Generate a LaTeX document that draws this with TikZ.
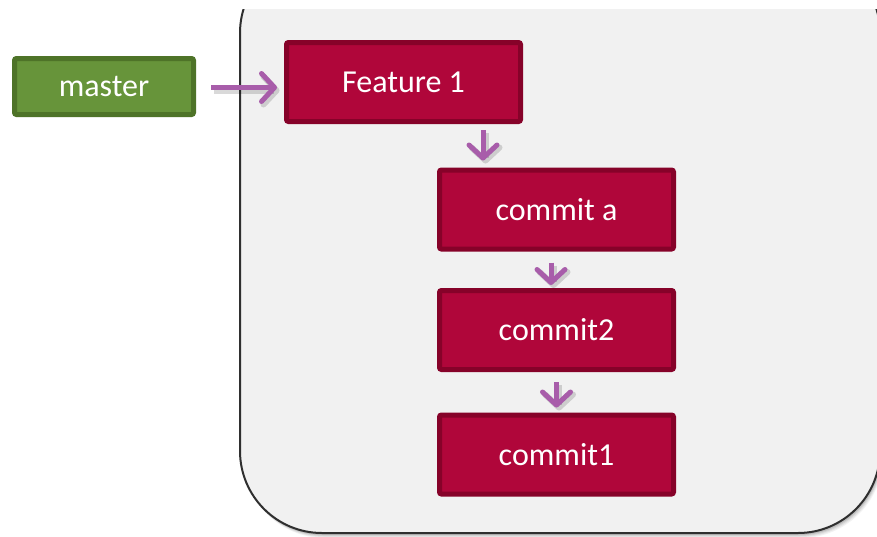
\documentclass[tikz,border=0pt]{standalone}
\usepackage{fontspec}
\setmainfont{Carlito}
\usetikzlibrary{arrows.meta}
\definecolor{crim}{HTML}{B0063A}
\definecolor{crimdark}{HTML}{860229}
\definecolor{grn}{HTML}{67943A}
\definecolor{grndark}{HTML}{4E7328}
\definecolor{purp}{HTML}{A85DAA}
\definecolor{panel}{HTML}{F1F1F1}
\definecolor{paneledge}{HTML}{2F2F2F}
\tikzset{
  box/.style={draw=crimdark, fill=crim, line width=5pt, rounded corners=2pt,
    minimum width=234pt, minimum height=79pt, text=white, inner sep=0pt,
    font=\fontsize{32}{38}\selectfont},
  gbox/.style={draw=grndark, fill=grn, line width=5pt, rounded corners=2pt,
    minimum width=179pt, minimum height=56pt, text=white, inner sep=0pt,
    font=\fontsize{32}{38}\selectfont},
  arr/.style={draw=purp, line width=5pt,
    -{Straight Barb[round, length=13pt, width=28pt, line width=5pt]}},
  arrshadow/.style={draw=black, opacity=0.15, line width=6pt,
    -{Straight Barb[round, length=13pt, width=28pt, line width=6pt]}}
}
\begin{document}
\begin{tikzpicture}[x=1pt,y=-1pt]
\useasboundingbox (0,0) rectangle (877,536);
% panel
\begin{scope}
\clip (0,9) rectangle (877,536);
\foreach \s/\o in {5/0.05,4/0.06,3/0.08,2/0.1}{
  \fill[black, opacity=\o, rounded corners=82pt] (240+\s*0.6,-49+\s) rectangle (880+\s*0.6,533+\s);
}
\draw[draw=paneledge, fill=panel, line width=2pt, rounded corners=82pt] (240,-49) rectangle (880,533);
\end{scope}
% nodes
\node[gbox] (m) at (104,86.5) {master};
\node[box] (F) at (403.5,82) {Feature 1};
\node[box] (ca) at (556.5,209.5) {commit a};
\node[box] (c2) at (556.5,330) {commit2};
\node[box] (c1) at (556.5,454.5) {commit1};
% arrow shadows
\begin{scope}[transform canvas={shift={(2.5pt,-3pt)}}]
\draw[arrshadow, shorten <=15pt, shorten >=7pt] ([yshift=-1]m.east) -- ([yshift=-1]F.west |- m.east);
\draw[arrshadow, shorten <=6pt, shorten >=7pt] ([xshift=79.5]F.south) -- ([xshift=79.5]F.south |- ca.north);
\draw[arrshadow, shorten <=11pt, shorten >=3pt] ([xshift=-5.5]ca.south) -- ([xshift=-5.5]ca.south |- c2.north);
\draw[arrshadow, shorten <=10pt, shorten >=5pt] (c2.south) -- (c2.south |- c1.north);
\end{scope}
% arrows
\draw[arr, shorten <=15pt, shorten >=7pt] ([yshift=-1]m.east) -- ([yshift=-1]F.west |- m.east);
\draw[arr, shorten <=6pt, shorten >=7pt] ([xshift=79.5]F.south) -- ([xshift=79.5]F.south |- ca.north);
\draw[arr, shorten <=11pt, shorten >=3pt] ([xshift=-5.5]ca.south) -- ([xshift=-5.5]ca.south |- c2.north);
\draw[arr, shorten <=10pt, shorten >=5pt] (c2.south) -- (c2.south |- c1.north);
\end{tikzpicture}
\end{document}
